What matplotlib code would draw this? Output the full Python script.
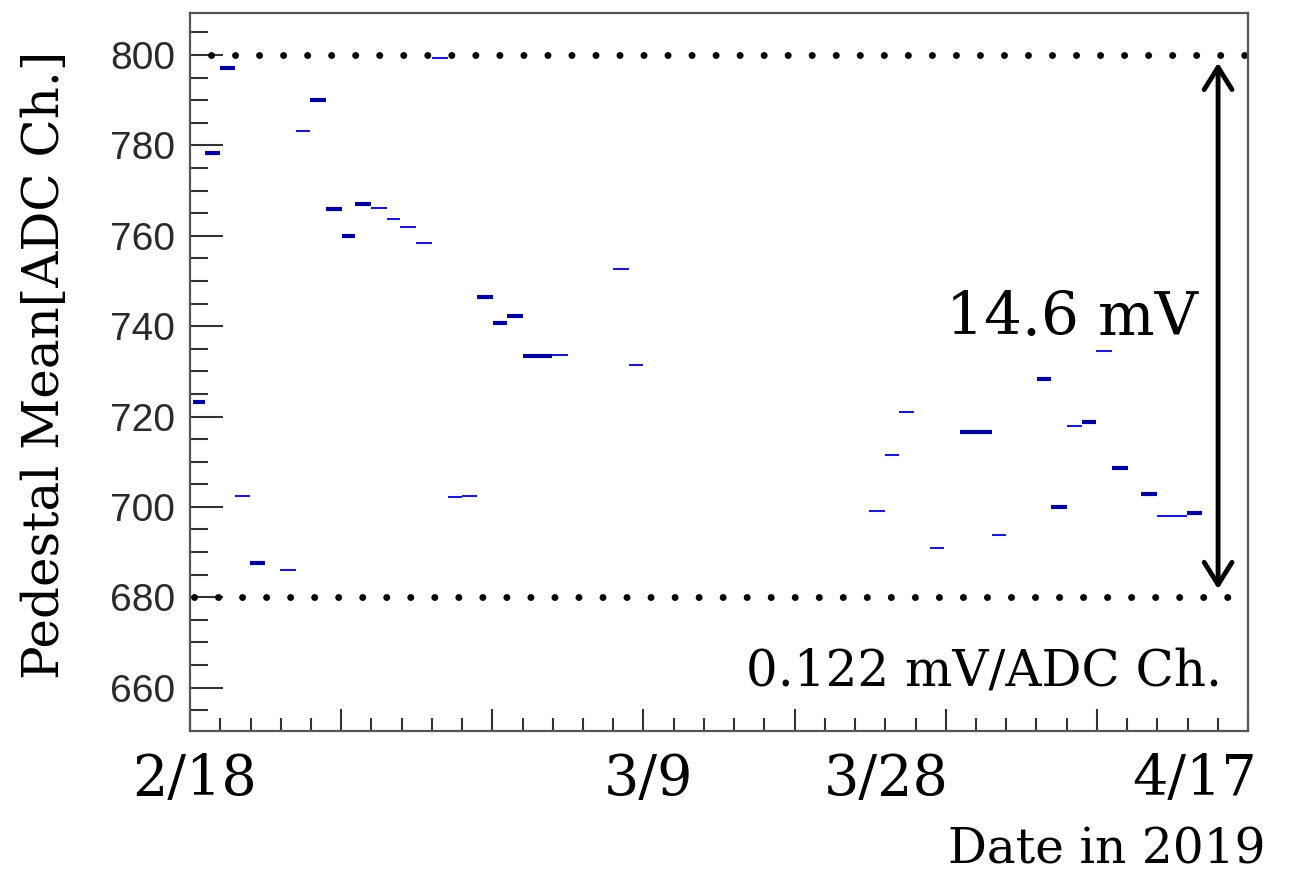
import numpy as np
import matplotlib.pyplot as plt
from matplotlib.ticker import MultipleLocator, FixedLocator, NullFormatter

# pedestal mean per run: start / end (days after 2/18) and mean [ADC ch.]
run_start = [0.15, 0.82, 1.64, 2.47, 3.29, 4.93, 5.81, 6.58, 7.46, 8.33,
             9.05, 9.92, 10.80, 11.51, 12.39, 13.27, 14.14, 14.91, 15.73, 16.61,
             17.38, 18.26, 19.85, 23.19, 24.07, 37.22, 38.10, 38.87, 40.57, 42.21,
             43.97, 46.43, 47.20, 48.08, 48.90, 49.67, 50.54, 52.13, 53.01, 54.65]
run_end = [0.82, 1.64, 2.47, 3.29, 4.11, 5.81, 6.58, 7.46, 8.33, 9.05,
           9.92, 10.80, 11.51, 12.39, 13.27, 14.14, 14.91, 15.73, 16.61, 17.38,
           18.26, 19.85, 20.72, 24.07, 24.83, 38.10, 38.87, 39.69, 41.33, 43.97,
           44.73, 47.20, 48.08, 48.90, 49.67, 50.54, 51.42, 53.01, 54.65, 55.48]
ped_mean = [723.3, 778.3, 797.1, 702.5, 687.5, 686.0, 783.2, 790.1, 766.0, 760.0,
            767.1, 766.2, 763.8, 762.0, 758.5, 799.3, 702.1, 702.5, 746.5, 740.6,
            742.3, 733.3, 733.7, 752.7, 731.5, 699.0, 711.4, 720.9, 690.8, 716.5,
            693.7, 728.2, 699.9, 717.8, 718.7, 734.4, 708.7, 702.8, 697.9, 698.6]
# runs with high statistics are drawn heavier
high_stat = [1, 1, 1, 0, 1, 0, 0, 1, 1, 1,
             1, 0, 0, 0, 0, 0, 0, 0, 1, 1,
             1, 1, 0, 0, 0, 0, 0, 0, 0, 1,
             0, 1, 1, 0, 1, 0, 1, 1, 0, 1]

PED_HIGH = 800
PED_LOW = 680
SPAN_LABEL = "14.6 mV"
GAIN_LABEL = "0.122 mV/ADC Ch."

DATE_LABELS = ["2/18", "3/9", "3/28", "4/17"]
DATE_POS = [0.1490, 0.4950, 0.6768, 0.9129]   # figure fraction, x

SERIF = ["DejaVu Serif", "Liberation Serif"]

fig = plt.figure(figsize=(13.09, 8.74), dpi=100)
ax = fig.add_axes([0.1452, 0.1636, 0.8082, 0.8215])

x0 = np.array(run_start)
x1 = np.array(run_end)
y = np.array(ped_mean)
hs = np.array(high_stat, dtype=bool)
ax.hlines(y[~hs], x0[~hs], x1[~hs], color="#1a1ac8", lw=1.5)
ax.hlines(y[hs], x0[hs], x1[hs], color="#00009c", lw=3.0)

ax.set_xlim(0, 58)
ax.set_ylim(650.4, 809.3)

# dotted reference levels
dot_style = dict(color="black", lw=5, linestyle=(0, (0.01, 3.45)),
                 dash_capstyle="round")
ax.plot([1.15, 57.9], [PED_HIGH, PED_HIGH], **dot_style)
ax.plot([0.22, 56.9], [PED_LOW, PED_LOW], **dot_style)

ax.annotate("", xy=(56.36, PED_HIGH - 1.7), xytext=(56.36, PED_LOW + 1.8),
            arrowprops=dict(arrowstyle="<->,head_length=1.6,head_width=1.0",
                            lw=3.5, color="black", shrinkA=0, shrinkB=0))

fig.text(1198 / 1309, 1 - 335 / 874, SPAN_LABEL, ha="right", va="baseline",
         fontsize=43, family=SERIF)
fig.text(1222 / 1309, 1 - 685 / 874, GAIN_LABEL, ha="right", va="baseline",
         fontsize=36, family=SERIF)

# axes styling, ROOT-like
for side in ["left", "bottom", "top", "right"]:
    ax.spines[side].set_color("#555555")
    ax.spines[side].set_linewidth(1.6)

ax.yaxis.set_major_locator(MultipleLocator(20))
ax.yaxis.set_minor_locator(MultipleLocator(5))
ax.xaxis.set_major_locator(FixedLocator(np.linspace(0, 58, 8)))
ax.xaxis.set_minor_locator(FixedLocator(np.linspace(0, 58, 36)))
ax.xaxis.set_major_formatter(NullFormatter())

ax.tick_params(axis="y", which="major", direction="in", length=24, width=1.5,
               color="#333333", labelsize=28, labelcolor="#2a2a2a", pad=11)
ax.tick_params(axis="y", which="minor", direction="in", length=13, width=1.5,
               color="#333333")
ax.tick_params(axis="x", which="major", direction="in", length=16, width=1.5,
               color="#333333")
ax.tick_params(axis="x", which="minor", direction="in", length=9.5, width=1.5,
               color="#333333")
for lab in ax.get_yticklabels():
    lab.set_family(["Liberation Sans", "DejaVu Sans"])

fig.text(45 / 1309, 1 - 365 / 874, "Pedestal Mean[ADC Ch.]", rotation=90,
         ha="center", va="center", fontsize=36, family=SERIF)

for lab, xp in zip(DATE_LABELS, DATE_POS):
    fig.text(xp, 1 - 795 / 874, lab, ha="center", va="baseline",
             fontsize=40, family=SERIF)
fig.text(1265 / 1309, 1 - 864 / 874, "Date in 2019", ha="right",
         va="baseline", fontsize=35, family=SERIF)

fig.savefig("out.png", dpi=100)
